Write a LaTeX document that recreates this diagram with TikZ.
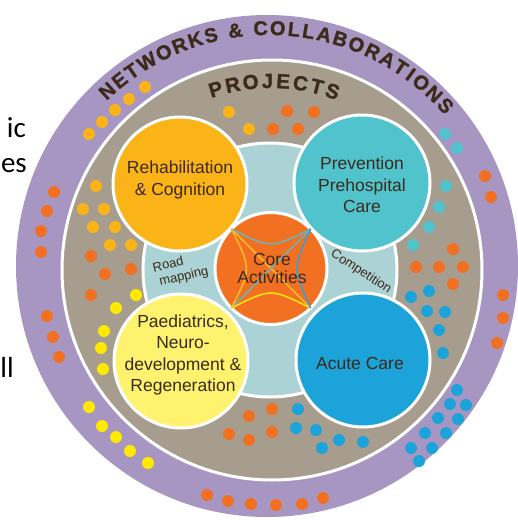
\documentclass[tikz,border=0pt]{standalone}
\usepackage{fontspec}
\setmainfont{Liberation Sans}
\newfontfamily\slidefont{Carlito}
\newfontfamily\heavyfont[BoldFeatures={FakeBold=1.3}]{Liberation Sans}
\usetikzlibrary{calc}
\definecolor{ringpurple}{RGB}{168,150,194}
\definecolor{projbeige}{RGB}{167,157,143}
\definecolor{innerteal}{RGB}{171,211,213}
\definecolor{rehabcol}{RGB}{251,180,24}
\definecolor{prevcol}{RGB}{80,195,205}
\definecolor{paedcol}{RGB}{255,242,110}
\definecolor{acutecol}{RGB}{28,164,218}
\definecolor{corecol}{RGB}{242,112,34}
\definecolor{dotorange}{RGB}{242,112,34}
\definecolor{dotgold}{RGB}{251,180,24}
\definecolor{dotyellow}{RGB}{255,233,0}
\definecolor{dotteal}{RGB}{80,195,205}
\definecolor{dotblue}{RGB}{28,164,218}
\definecolor{txtbrown}{RGB}{60,42,26}
\definecolor{lineteal}{RGB}{112,178,180}
\definecolor{linegold}{RGB}{250,185,40}
\definecolor{lineyellow}{RGB}{255,225,20}
\definecolor{lineblue}{RGB}{60,158,212}
\begin{document}
\begin{tikzpicture}[x=1pt,y=-1pt,
  disk/.style={circle, inner sep=0pt, outer sep=0pt},
  wdisk/.style={disk, draw=white, line width=3pt},
  lbl/.style={text=txtbrown, font=\fontsize{17.5}{21.5}\selectfont, align=center, inner sep=0pt},
  smalllbl/.style={text=txtbrown, font=\fontsize{13}{13}\selectfont, inner sep=0pt},
  slidetxt/.style={text=black, font=\slidefont\fontsize{29}{29}\selectfont, inner sep=0pt, anchor=base east},
  arcletter/.style={text=txtbrown, font=\heavyfont\bfseries\fontsize{20}{20}\selectfont, inner sep=0pt, anchor=base},
  projletter/.style={text=txtbrown, font=\heavyfont\bfseries\fontsize{20.5}{20.5}\selectfont, inner sep=0pt, anchor=base},
  coreline/.style={line width=1.6pt},
]
\useasboundingbox (0,0) rectangle (518,520);
% fragments of slide text
\node[slidetxt] (frag1) at (26,137) {ic};
\node[slidetxt] (frag2) at (27,172) {es};
\node[slidetxt] (frag3) at (14,377) {ll};
% rings
\node[disk, fill=ringpurple, minimum size=502pt] (outer) at (267,266) {};
\node[wdisk, fill=projbeige, minimum size=420pt] (proj) at (272,270) {};
\coordinate (ringc) at (269,268);
\coordinate (projc) at (271,270);
% dots
\foreach \x/\y in {145/87,129/99,115/110,102/122,89/134,229/112,249/129,96/186,83/209,104/209,93/227,115/227,110/245,131/245}
  \fill[dotgold] (\x,\y) circle[radius=6];
\foreach \x/\y in {54/192,47/211,41/231,41/252,47/316,53/337,59/357,207/495,228/501,251/504,276/505,302/504,323/498,503/295,503/318,497/343,485/176,491/197,
  287/111,314/112,273/129,298/129,91/256,105/274,131/269,91/295,453/249,416/267,439/267,463/267,453/284,249/416,272/409,229/434,249/440,272/432}
  \fill[dotorange] (\x,\y) circle[radius=6];
\foreach \x/\y in {89/407,102/426,116/437,130/451,148/463,136/295,116/308,104/331,101/348,103/369}
  \fill[dotyellow] (\x,\y) circle[radius=6];
\foreach \x/\y in {445/134,457/148,446/186,439/207,429/227,413/245}
  \fill[dotteal] (\x,\y) circle[radius=6];
\foreach \x/\y in {457/390,450/404,466/405,438/418,458/419,425/433,446/433,411/448,432/448,419/461,
  411/297,429/291,427/311,445/312,439/330,443/353,298/409,296/428,316/430,322/448,339/440,363/442}
  \fill[dotblue] (\x,\y) circle[radius=6];
% inner ring and circles
\node[wdisk, fill=innerteal, minimum size=254pt] (inner) at (270,270) {};
\node[wdisk, fill=rehabcol, minimum size=134pt] (rehab) at (180,184) {};
\node[wdisk, fill=prevcol, minimum size=136pt] (prev) at (362,183) {};
\node[wdisk, fill=paedcol, minimum size=134pt] (paed) at (181,361) {};
\node[wdisk, fill=acutecol, minimum size=134pt] (acute) at (363,360) {};
\node[wdisk, fill=corecol, minimum size=112pt] (core) at (271,268.5) {};
% core lines
\draw[coreline, linegold] (core.135) -- (core.315);
\draw[coreline, lineteal] (core.45) -- (core.225);
\draw[coreline, lineteal] (core.135) .. controls ($(core.135)!0.5!(core.45)+(0,20)$) .. (core.45);
\draw[coreline, lineyellow] (core.225) .. controls ($(core.225)!0.5!(core.315)+(0,-20)$) .. (core.315);
\draw[coreline, linegold] (core.135) .. controls ($(core.135)!0.5!(core.225)+(20,0)$) .. (core.225);
\draw[coreline, lineblue] (core.45) .. controls ($(core.45)!0.5!(core.315)+(-18,0)$) .. (core.315);
% labels
\node[lbl] (rehabtxt) at (180,180) {Rehabilitation\\\& Cognition};
\node[lbl] (prevtxt) at (362,185) {Prevention\\Prehospital\\Care};
\node[lbl] (paedtxt) at (183,355) {Paediatrics,\\Neuro-\\development \&\\Regeneration};
\node[lbl] (acutetxt) at (360,363) {Acute Care};
\node[lbl, font=\fontsize{17.5}{18}\selectfont] (coretxt) at (272,268) {Core\\Activities};
\node[smalllbl, rotate=13] (road) at (168,264) {Road};
\node[smalllbl, rotate=13] (mapping) at (184,277) {mapping};
\node[smalllbl, rotate=-33] (comp) at (361,272) {Competition};
% curved titles
\foreach \ch/\a [count=\i] in {N/227.6,E/231.5,T/235.1,W/239.4,O/244.0,R/248.1,K/252.1,S/256.0,{\&}/261.9,C/268.0,O/272.1,L/276.0,L/279.5,A/283.3,B/287.3,O/291.4,R/295.6,A/299.6,T/303.3,I/306.2,O/309.4,N/313.5,S/317.4}
  \node[arcletter, rotate={-\a-90}] (netl\i) at ($(ringc)+(\a:233)$) {\ch};
\foreach \ch/\a [count=\i] in {P/253.0,R/258.3,O/263.8,J/268.9,E/273.7,C/279.0,T/284.1,S/289.0}
  \node[projletter, rotate={-\a-90}] (projl\i) at ($(projc)+(\a:182)$) {\ch};
\end{tikzpicture}
\end{document}
